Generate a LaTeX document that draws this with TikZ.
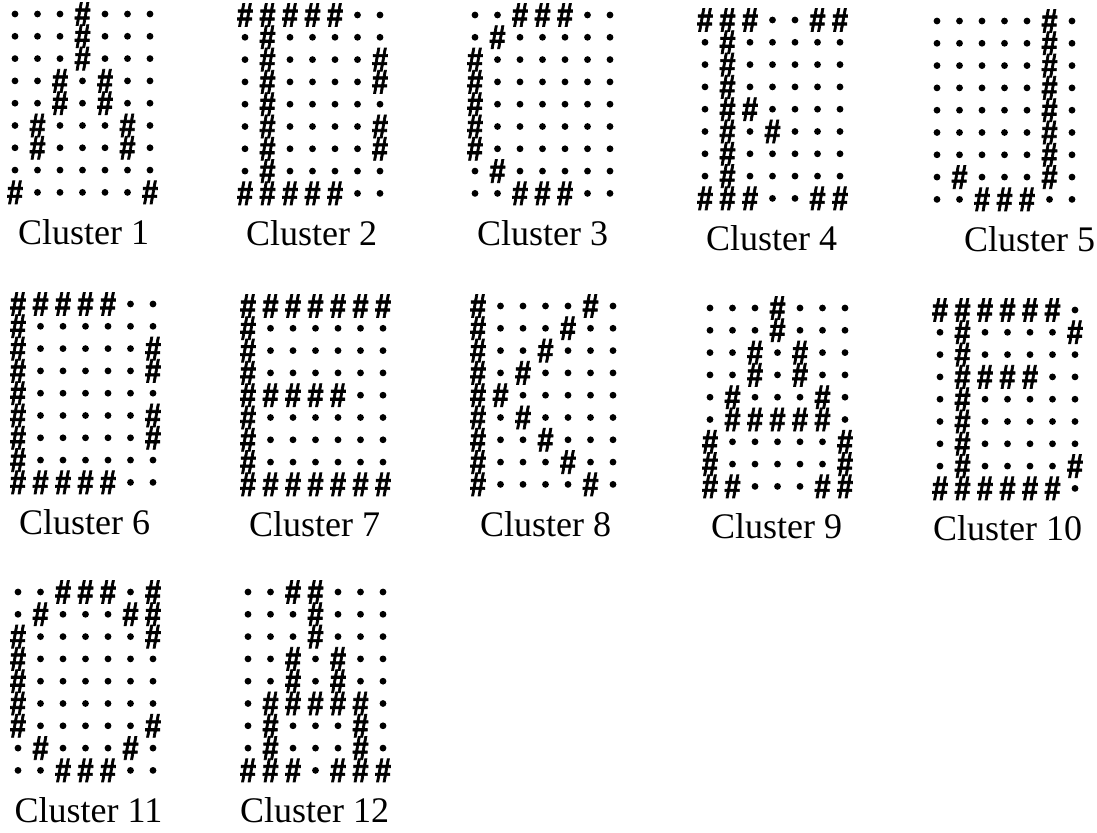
\documentclass[tikz,border=0pt]{standalone}
\usepackage{fontspec}
\setmainfont{Liberation Serif}
\newfontfamily\hashfont[FakeBold=2,FakeStretch=0.85]{Liberation Sans}
\usetikzlibrary{positioning}

\newcommand{\drawcluster}[5]{%
  \foreach \row [count=\r from 0] in {#5} {
    \foreach \v [count=\c from 0] in \row {
      \ifnum\v=1
        \node[hashmark] (c#1-\r-\c) at ({#2+\c*22.5},{#3+\r*22.3}) {\#};
      \else
        \node[gridpt] (c#1-\r-\c) at ({#2+\c*22.5},{#3+\r*22.3}) {};
      \fi
    }
  }
  \node[lbl] (c#1-label) at ({#2+67.5+#4},{#3+218}) {Cluster #1};
}

\begin{document}
\begin{tikzpicture}[x=0.5pt, y=-0.5pt,
    gridpt/.style={circle, fill=black, inner sep=0pt, minimum size=3.4pt},
    hashmark/.style={inner sep=0pt, font=\hashfont\bfseries\fontsize{17}{17}\selectfont},
    lbl/.style={inner sep=0pt, font=\fontsize{18}{22}\selectfont}]
  \useasboundingbox (0,0) rectangle (1097,833);
  \drawcluster{1}{15}{14}{1}{{0,0,0,1,0,0,0},{0,0,0,1,0,0,0},{0,0,0,1,0,0,0},{0,0,1,0,1,0,0},{0,0,1,0,1,0,0},{0,1,0,0,0,1,0},{0,1,0,0,0,1,0},{0,0,0,0,0,0,0},{1,0,0,0,0,0,1}}
  \drawcluster{2}{245}{15}{-1}{{1,1,1,1,1,0,0},{0,1,0,0,0,0,0},{0,1,0,0,0,0,1},{0,1,0,0,0,0,1},{0,1,0,0,0,0,0},{0,1,0,0,0,0,1},{0,1,0,0,0,0,1},{0,1,0,0,0,0,0},{1,1,1,1,1,0,0}}
  \drawcluster{3}{475}{15}{0}{{0,0,1,1,1,0,0},{0,1,0,0,0,0,0},{1,0,0,0,0,0,0},{1,0,0,0,0,0,0},{1,0,0,0,0,0,0},{1,0,0,0,0,0,0},{1,0,0,0,0,0,0},{0,1,0,0,0,0,0},{0,0,1,1,1,0,0}}
  \drawcluster{4}{705}{20}{-1}{{1,1,1,0,0,1,1},{0,1,0,0,0,0,0},{0,1,0,0,0,0,0},{0,1,0,0,0,0,0},{0,1,1,0,0,0,0},{0,1,0,1,0,0,0},{0,1,0,0,0,0,0},{0,1,0,0,0,0,0},{1,1,1,0,0,1,1}}
  \drawcluster{5}{937}{21}{25}{{0,0,0,0,0,1,0},{0,0,0,0,0,1,0},{0,0,0,0,0,1,0},{0,0,0,0,0,1,0},{0,0,0,0,0,1,0},{0,0,0,0,0,1,0},{0,0,0,0,0,1,0},{0,1,0,0,0,1,0},{0,0,1,1,1,0,0}}
  \drawcluster{6}{18}{304}{-1}{{1,1,1,1,1,0,0},{1,0,0,0,0,0,0},{1,0,0,0,0,0,1},{1,0,0,0,0,0,1},{1,0,0,0,0,0,0},{1,0,0,0,0,0,1},{1,0,0,0,0,0,1},{1,0,0,0,0,0,0},{1,1,1,1,1,0,0}}
  \drawcluster{7}{248}{306}{-1}{{1,1,1,1,1,1,1},{1,0,0,0,0,0,0},{1,0,0,0,0,0,0},{1,0,0,0,0,0,0},{1,1,1,1,1,0,0},{1,0,0,0,0,0,0},{1,0,0,0,0,0,0},{1,0,0,0,0,0,0},{1,1,1,1,1,1,1}}
  \drawcluster{8}{478}{306}{0}{{1,0,0,0,0,1,0},{1,0,0,0,1,0,0},{1,0,0,1,0,0,0},{1,0,1,0,0,0,0},{1,1,0,0,0,0,0},{1,0,1,0,0,0,0},{1,0,0,1,0,0,0},{1,0,0,0,1,0,0},{1,0,0,0,0,1,0}}
  \drawcluster{9}{710}{308}{-1}{{0,0,0,1,0,0,0},{0,0,0,1,0,0,0},{0,0,1,0,1,0,0},{0,0,1,0,1,0,0},{0,1,0,0,0,1,0},{0,1,1,1,1,1,0},{1,0,0,0,0,0,1},{1,0,0,0,0,0,1},{1,1,0,0,0,1,1}}
  \drawcluster{10}{940}{310}{0}{{1,1,1,1,1,1,0},{0,1,0,0,0,0,1},{0,1,0,0,0,0,0},{0,1,1,1,1,0,0},{0,1,0,0,0,0,0},{0,1,0,0,0,0,0},{0,1,0,0,0,0,0},{0,1,0,0,0,0,1},{1,1,1,1,1,1,0}}
  \drawcluster{11}{18}{592}{3}{{0,0,1,1,1,0,1},{0,1,0,0,0,1,1},{1,0,0,0,0,0,1},{1,0,0,0,0,0,0},{1,0,0,0,0,0,0},{1,0,0,0,0,0,0},{1,0,0,0,0,0,1},{0,1,0,0,0,1,0},{0,0,1,1,1,0,0}}
  \drawcluster{12}{248}{592}{-1}{{0,0,1,1,0,0,0},{0,0,0,1,0,0,0},{0,0,0,1,0,0,0},{0,0,1,0,1,0,0},{0,0,1,0,1,0,0},{0,1,1,1,1,1,0},{0,1,0,0,0,1,0},{0,1,0,0,0,1,0},{1,1,1,0,1,1,1}}
\end{tikzpicture}
\end{document}
